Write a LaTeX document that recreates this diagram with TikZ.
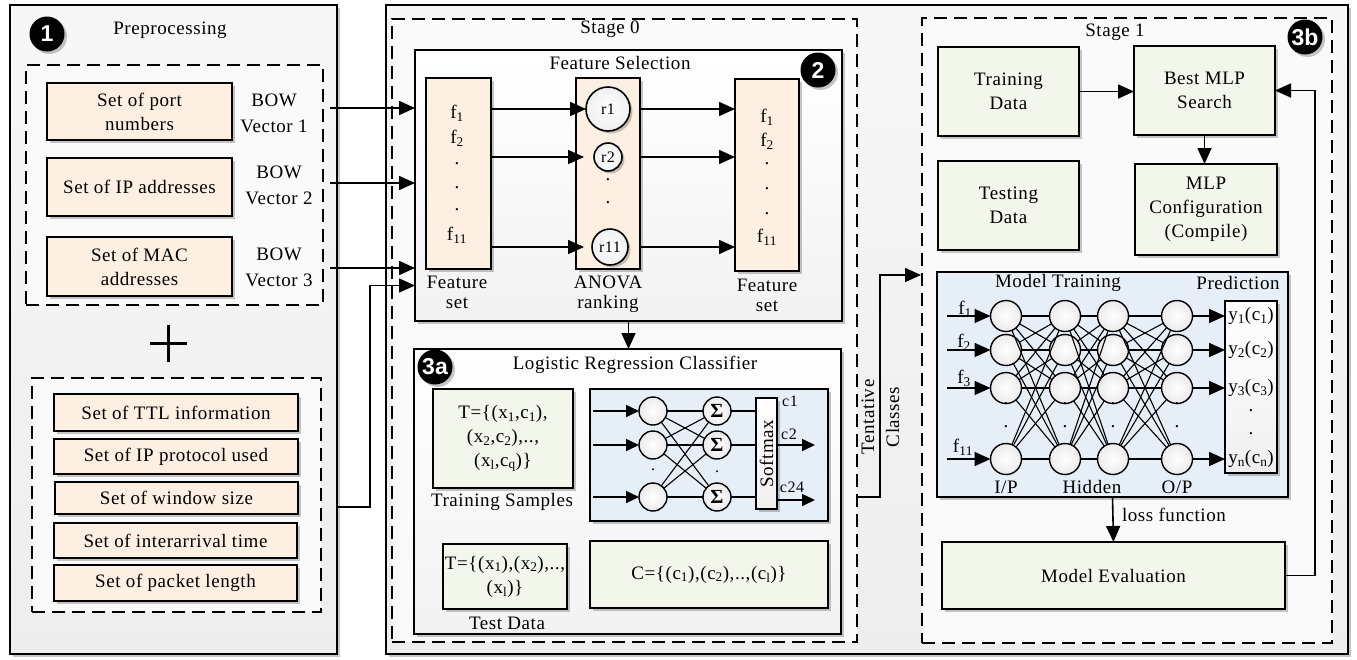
\documentclass[tikz,border=0pt]{standalone}
\usepackage{fontspec}
\setmainfont[LetterSpace=3]{Liberation Serif}
\newfontfamily\numfont{Liberation Sans}
\usetikzlibrary{arrows.meta,shadows,calc}
\definecolor{peach}{RGB}{253,239,226}
\definecolor{lgreen}{RGB}{243,246,234}
\definecolor{lblue}{RGB}{230,238,248}
\newcommand\bx[7]{\node[#6, minimum width={(#4)-(#2)}, minimum height={(#5)-(#3)}] (#1) at ({((#2)+(#4))/2},{((#3)+(#5))/2}) {#7};}
\tikzset{
 every node/.style={inner sep=0pt, outer sep=0pt},
 shad/.style={drop shadow={shadow xshift=2.5pt, shadow yshift=-2.5pt, opacity=0.22, fill=black}},
 panel/.style={draw, line width=1.8pt, top color=black!3, bottom color=black!7, shad},
 sbox/.style={draw, line width=1.8pt, top color=white, bottom color=black!5, shad},
 dbox/.style={draw, line width=1.8pt, dash pattern=on 13pt off 7pt, fill=black!2},
 pbox/.style={draw, line width=1.8pt, fill=peach, align=center, shad},
 gbox/.style={draw, line width=1.8pt, fill=lgreen, align=center, shad},
 bbox/.style={draw, line width=1.8pt, fill=lblue, shad},
 wbox/.style={draw, line width=1.6pt, top color=white, bottom color=black!6, shad},
 neuron/.style={circle, draw, line width=1.4pt, inner color=white, outer color=black!8, minimum size=31pt},
 sneuron/.style={circle, draw, line width=1.4pt, inner color=white, outer color=black!8, minimum size=28pt},
 rc/.style={circle, draw, line width=1.6pt, inner color=white, outer color=black!6, shad, font=\fontsize{16}{16}\selectfont},
 numc/.style={circle, fill=black, text=white, font=\numfont\bfseries\fontsize{23}{23}\selectfont, minimum size=35pt, shad},
 arr/.style={line width=1.6pt, -{Triangle[length=16pt,width=14pt]}},
 sarr/.style={line width=1.6pt, -{Triangle[length=13pt,width=12pt]}},
 ln/.style={line width=1.6pt},
 thin/.style={line width=1.1pt},
 lbl/.style={align=center, font=\fontsize{19}{20}\selectfont},
 sm/.style={font=\fontsize{16}{16}\selectfont},
}
\begin{document}
\begin{tikzpicture}[x=1pt, y=-1pt, font=\fontsize{19}{24}\selectfont]
\useasboundingbox (0,0) rectangle (1357,659);
\fill[white] (0,0) rectangle (1357,659);

% ---------------- Preprocessing panel
\bx{pre}{10}{5}{337}{654}{panel}{}
\node[numc] (n1) at (47,34) {1};
\node (pret) at (170,30) {Preprocessing};
\bx{d1}{26}{65}{323}{305}{dbox}{}
\bx{port}{47}{83}{232}{140}{pbox}{Set of port\\numbers}
\bx{ip}{47}{158}{232}{216}{pbox}{Set of IP addresses}
\bx{mac}{47}{237}{232}{296}{pbox}{Set of MAC\\addresses}
\node[align=center, font=\fontsize{19}{26}\selectfont] (bow1) at (274,113) {BOW\\Vector 1};
\node[align=center, font=\fontsize{19}{26}\selectfont] (bow2) at (279,185) {BOW\\Vector 2};
\node[align=center, font=\fontsize{19}{26}\selectfont] (bow3) at (279,267) {BOW\\Vector 3};
\draw[line width=3pt] (150,343) -- (187,343) (168,325) -- (168,362);
\bx{d2}{32}{378}{321}{612}{dbox}{}
\bx{ttl}{54}{394}{298}{431}{pbox}{Set of TTL information}
\bx{proto}{54}{439}{298}{474}{pbox}{Set of IP protocol used}
\bx{win}{55}{482}{298}{514}{pbox}{Set of window size}
\bx{iat}{54}{523}{297}{558}{pbox}{Set of interarrival time}
\bx{plen}{54}{565}{297}{601}{pbox}{Set of packet length}

% ---------------- main panel
\bx{main}{386}{5}{1348}{654}{panel}{}
\bx{st0}{392}{19}{857}{642}{dbox}{}
\node (st0t) at (610,29) {Stage 0};

% Feature selection
\bx{fsel}{415}{50}{842}{321}{sbox}{}
\node (fselt) at (620,63) {Feature Selection};
\node[numc] (n2) at (818,70) {2};
\bx{fs1}{426}{78}{491}{269}{pbox}{}
\node (a1) at (457,113) {f\textsubscript{1}};
\node (a2) at (457,138) {f\textsubscript{2}};
\node (ad1) at (457,164) {.};
\node (ad2) at (457,188) {.};
\node (ad3) at (457,210) {.};
\node (a11) at (457,235) {f\textsubscript{11}};
\node[lbl] (fs1l) at (457,292) {Feature\\set};
\bx{anova}{576}{78}{640}{269}{pbox}{}
\node[rc, minimum size=44pt] (r1) at (608,109) {r1};
\node[rc, minimum size=28pt] (r2) at (608,157) {r2};
\node[rc, minimum size=36pt] (r11) at (610,247) {r11};
\node (rd1) at (608,180) {.};
\node (rd2) at (608,203) {.};
\node[lbl] (anl) at (608,294) {ANOVA\\ranking};
\bx{fs2}{735}{79}{799}{271}{pbox}{}
\node (b1) at (767,117) {f\textsubscript{1}};
\node (b2) at (767,141) {f\textsubscript{2}};
\node (bd1) at (767,164) {.};
\node (bd2) at (767,189) {.};
\node (bd3) at (767,214) {.};
\node (b11) at (767,237) {f\textsubscript{11}};
\node[lbl] (fs2l) at (767,295) {Feature\\set};
\draw[arr] (fs1.east |- r1) -- (r1.west);
\draw[arr] (fs1.east |- r2) -- ($(anova.west |- r2)+(8,0)$);
\draw[arr] (fs1.east |- r11) -- ($(anova.west |- r11)+(8,0)$);
\draw[arr] (anova.east |- r1) -- (fs2.west |- r1);
\draw[arr] (anova.east |- r2) -- (fs2.west |- r2);
\draw[arr] (anova.east |- r11) -- (fs2.west |- r11);

% inputs from preprocessing
\coordinate (o1) at (330,108);
\coordinate (o2) at (330,183);
\coordinate (o3) at (330,268);
\coordinate (o4) at (337,507);
\draw[arr] (o1) -- (o1 -| fsel.west);
\draw[arr] (o2) -- (o2 -| fsel.west);
\draw[arr] (o3) -- (o3 -| fsel.west);
\draw[arr] (o4) -- ++(33,0) |- ($(fsel.west)+(0,100)$);

% Logistic regression
\draw[arr] (fsel.south) -- (fsel.south |- 0,349);
\bx{lrc}{414}{349}{841}{634}{sbox}{}
\node (lrct) at (635,365) {Logistic Regression Classifier};
\node[numc] (n3a) at (435,367) {3a};
\bx{trs}{433}{389}{573}{488}{gbox}{T=\{(x\textsubscript{1},c\textsubscript{1}),\\(x\textsubscript{2},c\textsubscript{2}),..,\\(x\textsubscript{l},c\textsubscript{q})\}}
\node (trsl) at (502,502) {Training Samples};
\bx{nnb}{590}{389}{828}{521}{bbox}{}
\node[sneuron] (i1) at (653,411) {};
\node[sneuron] (i2) at (653,445) {};
\node[sneuron] (i3) at (653,497) {};
\node[sneuron, font=\bfseries\fontsize{20}{20}\selectfont] (s1) at (717,411) {Σ};
\node[sneuron, font=\bfseries\fontsize{20}{20}\selectfont] (s2) at (717,445) {Σ};
\node[sneuron, font=\bfseries\fontsize{20}{20}\selectfont] (s3) at (717,497) {Σ};
\node[sm] (idot) at (653,470) {.};
\node[sm] (sdot) at (717,472) {.};
\bx{smx}{756}{398}{777}{509}{wbox}{}
\node[rotate=90] (smxt) at (smx) {Softmax};
\foreach \a in {1,2,3} {\draw[sarr] ($(nnb.west |- i\a)+(3,0)$) -- (i\a.west);
  \foreach \b in {1,2,3} \draw[thin] (i\a) -- (s\b);
  \draw[thin] (s\a) -- (s\a -| smx.west);}
\draw[sarr] (smx.east |- s2) -- ++(38,0);
\draw[sarr] ($(smx.east |- s3)+(0,3)$) -- ++(38,0);
\node[sm] (c1) at (790,401) {c1};
\node[sm] (c2) at (789,434) {c2};
\node[sm] (c24) at (792,487) {c24};
\bx{tst}{443}{544}{567}{609}{gbox}{T=\{(x\textsubscript{1}),(x\textsubscript{2}),..,\\(x\textsubscript{l})\}}
\node (tstl) at (507,623) {Test Data};
\bx{cbox}{590}{541}{828}{608}{gbox}{C=\{(c\textsubscript{1}),(c\textsubscript{2}),..,(c\textsubscript{l})\}}

% Tentative classes
\coordinate (tS) at (857,497);
\coordinate (tE) at (921,275);
\draw[arr] (tS) -- ++(23,0) |- (tE);
\node[rotate=90, align=center, font=\fontsize{19}{25}\selectfont] (tent) at (880.5,417) {Tentative\\Classes};

% ---------------- Stage 1
\bx{st1}{922}{18}{1332}{643}{dbox}{}
\node (st1t) at (1115,32) {Stage 1};
\node[numc] (n3b) at (1305,37) {3b};
\bx{trd}{938}{47}{1079}{136}{gbox}{Training\\Data}
\bx{best}{1134}{46}{1275}{135}{gbox}{Best MLP\\Search}
\bx{ted}{938}{161}{1079}{250}{gbox}{Testing\\Data}
\bx{cfg}{1135}{164}{1277}{255}{gbox}{MLP\\Configuration\\(Compile)}
\draw[arr] (trd.east) -- (trd.east -| best.west);
\draw[arr] (best.south) -- (best.south |- cfg.north);

\bx{mt}{937}{272}{1288}{497}{bbox}{}
\node (mtt) at (1058,283) {Model Training};
\node (prt) at (1238,283) {Prediction};
\bx{pred}{1225}{301}{1277}{473}{wbox}{}
\foreach \c/\x in {1/1006,2/1065,3/1113,4/1177} {
  \foreach \r/\y in {1/316,2/350,3/388,4/459} \node[neuron] (m\c\r) at (\x,\y) {};
  \node (md\c a) at (\x,404) {.};
  \node (md\c b) at (\x,427) {.};
}
\foreach \c/\d in {1/2,2/3,3/4} \foreach \r in {1,2,3,4} \foreach \s in {1,2,3,4} \draw[thin] (m\c\r) -- (m\d\s);
\foreach \r in {1,2,3,4} {
  \draw[arr] ($(mt.west |- m1\r)+(10,0)$) -- (m1\r.west);
  \draw[arr] (m4\r) -- (m4\r -| pred.west);
}
\node (f1) at (965,309) {f\textsubscript{1}};
\node (f2) at (964,342) {f\textsubscript{2}};
\node (f3) at (964,378) {f\textsubscript{3}};
\node (f11) at (963,447) {f\textsubscript{11}};
\node (y1) at (1251,316) {y\textsubscript{1}(c\textsubscript{1})};
\node (y2) at (1251,350) {y\textsubscript{2}(c\textsubscript{2})};
\node (y3) at (1251,388) {y\textsubscript{3}(c\textsubscript{3})};
\node (yd1) at (1251,411) {.};
\node (yd2) at (1251,434) {.};
\node (yn) at (1251,459) {y\textsubscript{n}(c\textsubscript{n})};
\node (ip) at (1006,487) {I/P};
\node (hid) at (1092,487) {Hidden};
\node (op) at (1177,487) {O/P};

\bx{meval}{942}{542}{1285}{609}{gbox}{Model Evaluation}
\draw[arr] (mt.south) -- (meval.north);
\node[anchor=west] (loss) at (1122,515) {loss function};
\draw[arr] (meval.east) -- ++(30,0) |- (best.east);
\end{tikzpicture}
\end{document}
